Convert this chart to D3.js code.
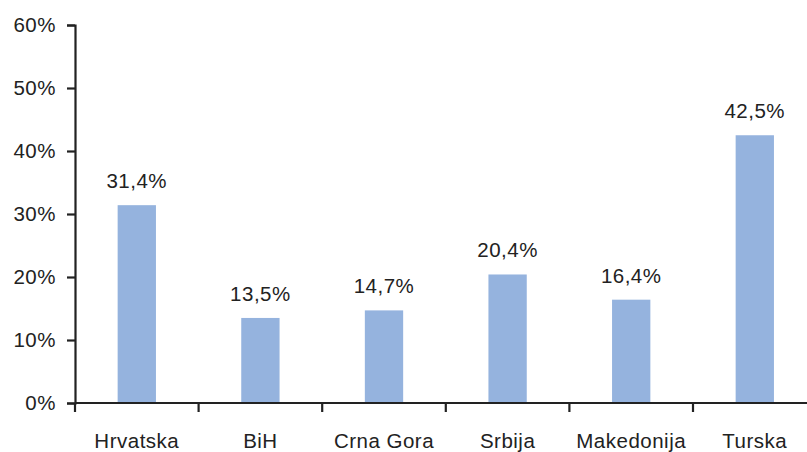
<!DOCTYPE html>
<html><head><meta charset="utf-8">
<script src="https://cdn.jsdelivr.net/npm/d3@7"></script>
<style>html,body{margin:0;padding:0;background:#fff}svg{display:block}</style>
</head><body>
<script>
const categories = ["Hrvatska","BiH","Crna Gora","Srbija","Makedonija","Turska"];
const values = [31.4, 13.5, 14.7, 20.4, 16.4, 42.5];
const valueLabels = ["31,4%","13,5%","14,7%","20,4%","16,4%","42,5%"];
const yTicks = [0,10,20,30,40,50,60];

const W = 807, H = 452;
const svg = d3.select("body").append("svg").attr("width", W).attr("height", H);
const font = "Liberation Sans, Arial, sans-serif";
const fs = 20.5, ls = 0.5;
const x0 = 75, step = 123.6, y0 = 403, yTop = 25;
const x = d3.scaleBand().domain(categories).range([x0, x0 + step*categories.length]).padding(0);
const y = d3.scaleLinear().domain([0,60]).range([y0, yTop]);
const barW = x.bandwidth()*0.31;

// bars
svg.selectAll("rect.bar").data(values).enter().append("rect")
  .attr("x", (d,i)=>x(categories[i]) + x.bandwidth()/2 - barW/2)
  .attr("y", d=>y(d)).attr("width", barW).attr("height", d=>y(0)-y(d))
  .attr("fill", "#95b3de");

// value labels
svg.selectAll("text.val").data(values).enter().append("text")
  .attr("x", (d,i)=>x(categories[i]) + x.bandwidth()/2)
  .attr("y", d=>y(d) - 17)
  .attr("text-anchor","middle").attr("font-family",font).attr("font-size",fs)
  .attr("letter-spacing",ls).attr("fill","#222")
  .text((d,i)=>valueLabels[i]);

// y axis
const yAxis = d3.axisLeft(y).tickValues(yTicks).tickFormat(d=>d+"%").tickSize(8).tickPadding(11);
const gy = svg.append("g").attr("transform",`translate(${x0},0)`).call(yAxis);
gy.select(".domain").attr("stroke","#222").attr("stroke-width",2.2);
gy.selectAll(".tick line").attr("stroke","#222").attr("stroke-width",2.2);
gy.selectAll(".tick text").attr("font-family",font).attr("font-size",fs)
  .attr("letter-spacing",ls).attr("fill","#222");

// x axis
const xAxis = d3.axisBottom(x).tickSize(0).tickPadding(0);
const gx = svg.append("g").attr("transform",`translate(0,${y0})`).call(xAxis);
gx.select(".domain").remove();
gx.selectAll(".tick text").attr("font-family",font).attr("font-size",fs)
  .attr("letter-spacing",ls).attr("fill","#222").attr("dy",null).attr("y",45);
gx.append("line").attr("x1",x0).attr("x2",x0+step*categories.length).attr("y1",0).attr("y2",0)
  .attr("stroke","#222").attr("stroke-width",2.2);
gx.selectAll("line.bt").data(categories).enter().append("line")
  .attr("x1",d=>x(d)).attr("x2",d=>x(d)).attr("y1",0).attr("y2",9)
  .attr("stroke","#222").attr("stroke-width",2.2);
</script>
</body></html>
